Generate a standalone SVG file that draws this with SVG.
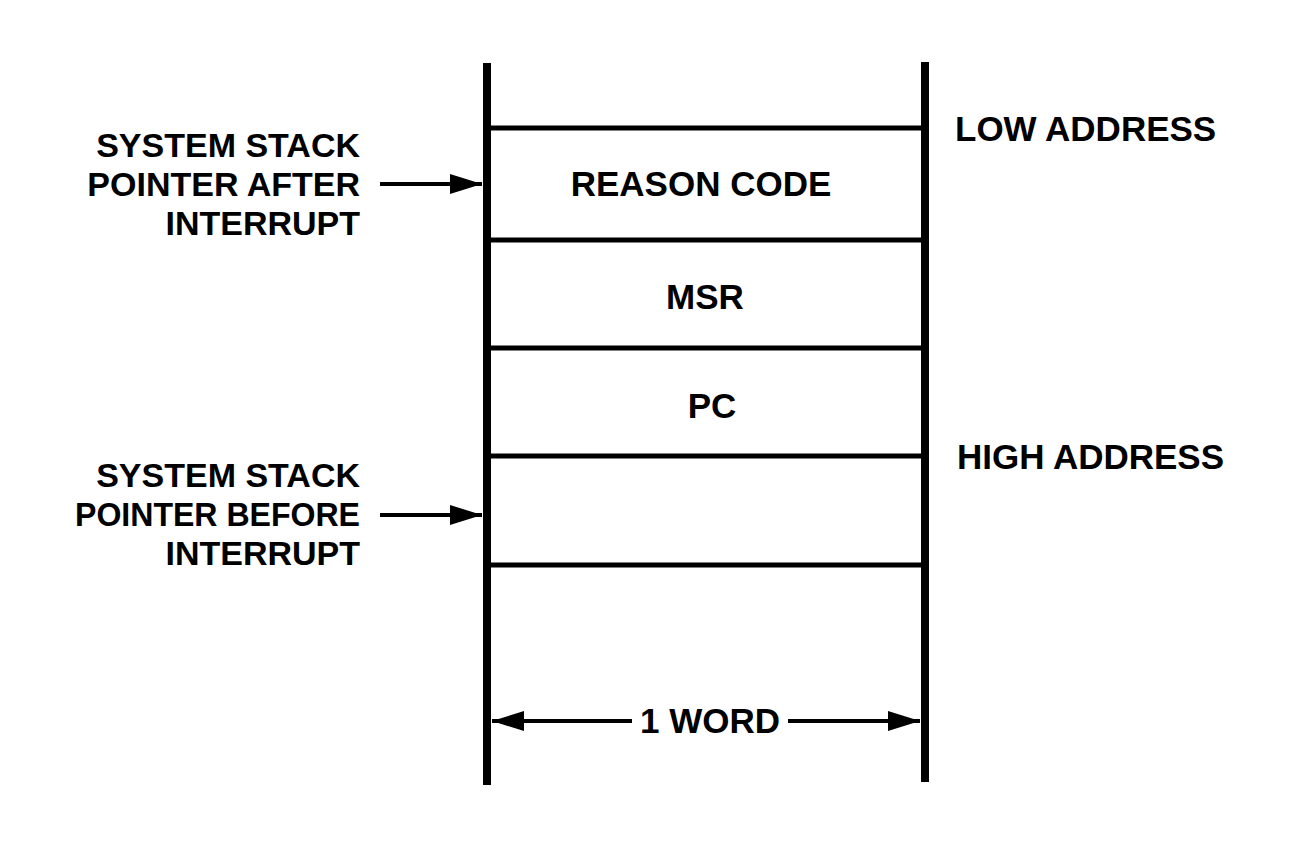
<svg xmlns="http://www.w3.org/2000/svg" width="1309" height="856" viewBox="0 0 1309 856">
<style>
text{font-family:"Liberation Sans",Arial,sans-serif;font-weight:bold;font-size:34px;fill:#000}
.r{text-anchor:end}
.m{text-anchor:middle;font-size:35px}
.a{font-size:35px}
.v{stroke:#000;stroke-width:8;fill:none}
.h{stroke:#000;stroke-width:5;fill:none}
.c{stroke:#000;stroke-width:4;fill:none}
</style>
<defs>
<marker id="ah" viewBox="0 0 32 20" refX="32" refY="10" markerWidth="32" markerHeight="20" markerUnits="userSpaceOnUse" orient="auto-start-reverse">
<path d="M0,0 L32,10 L0,20 Z" fill="#000"/>
</marker>
</defs>
<rect width="1309" height="856" fill="#fff"/>
<g id="stack">
<line class="v" x1="487" y1="63" x2="487" y2="785"/>
<line class="v" x1="925" y1="62" x2="925" y2="782"/>
<line class="h" x1="487" y1="128" x2="925" y2="128"/>
<line class="h" x1="487" y1="240" x2="925" y2="240"/>
<line class="h" x1="487" y1="348" x2="925" y2="348"/>
<line class="h" x1="487" y1="456" x2="925" y2="456"/>
<line class="h" x1="487" y1="565" x2="925" y2="565"/>
</g>
<g id="reason-code"><text class="m" x="701" y="196">REASON CODE</text></g>
<g id="msr"><text class="m" x="705" y="309">MSR</text></g>
<g id="pc"><text class="m" x="712" y="418">PC</text></g>
<g id="low-address"><text class="a" x="955" y="141">LOW ADDRESS</text></g>
<g id="high-address"><text class="a" x="957" y="469">HIGH ADDRESS</text></g>
<g id="sp-after">
<text class="r" x="360" y="157">SYSTEM STACK</text>
<text class="r" x="360" y="196">POINTER AFTER</text>
<text class="r" x="360" y="235">INTERRUPT</text>
</g>
<g id="sp-before">
<text class="r" x="360" y="487">SYSTEM STACK</text>
<text class="r" x="360" y="526" textLength="285" lengthAdjust="spacingAndGlyphs">POINTER BEFORE</text>
<text class="r" x="360" y="565">INTERRUPT</text>
</g>
<g id="word"><text class="m" x="710" y="733">1 WORD</text></g>
<g id="connectors">
<line class="c" x1="380" y1="184" x2="482" y2="184" marker-end="url(#ah)"/>
<line class="c" x1="380" y1="515" x2="482" y2="515" marker-end="url(#ah)"/>
<line class="c" x1="632" y1="721" x2="492" y2="721" marker-end="url(#ah)"/>
<line class="c" x1="788" y1="721" x2="920" y2="721" marker-end="url(#ah)"/>
</g>
</svg>
